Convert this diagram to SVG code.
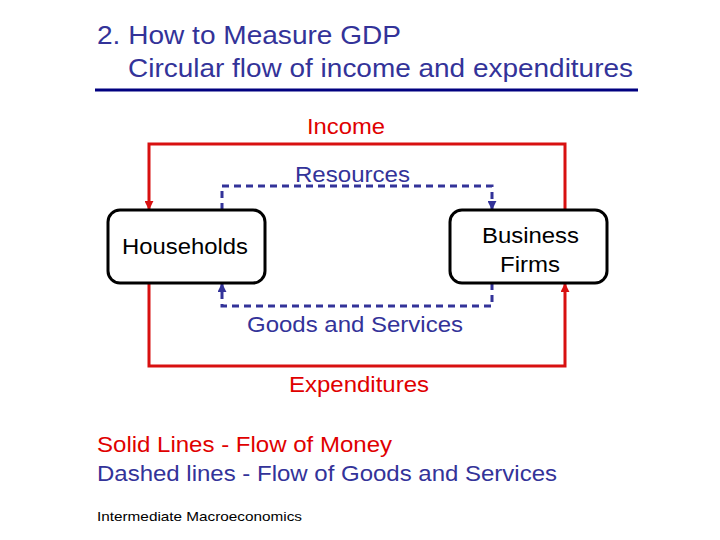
<svg xmlns="http://www.w3.org/2000/svg" width="720" height="540" viewBox="0 0 720 540">
<style>
text{font-family:"Liberation Sans",Arial,sans-serif}
.t{font-size:25px;fill:#333399}
.r{fill:#e00000}
.b{fill:#333399}
.m{stroke:#d81010;stroke-width:3;fill:none}
.d{stroke:#333399;stroke-width:3;fill:none;stroke-dasharray:7,5}
.box{fill:#fff;stroke:#000;stroke-width:3}
</style>
<defs>
<marker id="ar" viewBox="0 0 10 10" refX="9" refY="5" markerWidth="3" markerHeight="3" orient="auto"><path d="M0,0L10,5L0,10z" fill="#d81010"/></marker>
<marker id="ab" viewBox="0 0 10 10" refX="9" refY="5" markerWidth="3" markerHeight="3" orient="auto"><path d="M0,0L10,5L0,10z" fill="#333399"/></marker>
</defs>
<rect width="720" height="540" fill="#fff"/>
<text class="t" x="97" y="44" textLength="304" lengthAdjust="spacingAndGlyphs">2. How to Measure GDP</text>
<text class="t" x="128" y="77" textLength="505" lengthAdjust="spacingAndGlyphs">Circular flow of income and expenditures</text>
<line x1="95" y1="90" x2="638" y2="90" stroke="#000080" stroke-width="3"/>
<g id="connectors">
<path class="m" d="M565,210V144H149V209" marker-end="url(#ar)"/>
<path class="m" d="M149,283V366H565V284" marker-end="url(#ar)"/>
<path class="d" d="M222,210V186H492V209" marker-end="url(#ab)"/>
<path class="d" d="M492,283V306H222V284" marker-end="url(#ab)"/>
</g>
<text class="r" x="307" y="134" font-size="22" textLength="78" lengthAdjust="spacingAndGlyphs">Income</text>
<text class="b" x="295" y="182" font-size="22" textLength="115" lengthAdjust="spacingAndGlyphs">Resources</text>
<text class="b" x="247" y="332" font-size="22" textLength="216" lengthAdjust="spacingAndGlyphs">Goods and Services</text>
<text class="r" x="289" y="392" font-size="22" textLength="140" lengthAdjust="spacingAndGlyphs">Expenditures</text>
<g id="households"><rect class="box" x="108" y="210" width="157" height="73" rx="12"/><text x="122" y="254" font-size="22" textLength="126" lengthAdjust="spacingAndGlyphs">Households</text></g>
<g id="firms"><rect class="box" x="450" y="210" width="157" height="73" rx="12"/><text x="482" y="243" font-size="22" textLength="97" lengthAdjust="spacingAndGlyphs">Business</text><text x="500" y="272" font-size="22" textLength="60" lengthAdjust="spacingAndGlyphs">Firms</text></g>
<text class="r" x="97" y="452" font-size="22" textLength="295" lengthAdjust="spacingAndGlyphs">Solid Lines - Flow of Money</text>
<text class="b" x="97" y="481" font-size="22" textLength="460" lengthAdjust="spacingAndGlyphs">Dashed lines - Flow of Goods and Services</text>
<text x="97" y="521" font-size="13" textLength="205" lengthAdjust="spacingAndGlyphs">Intermediate Macroeconomics</text>
</svg>
